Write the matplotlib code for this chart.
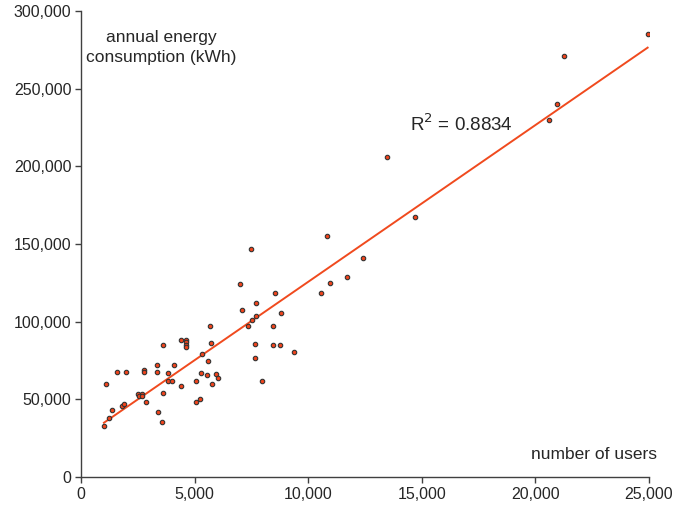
import numpy as np
import matplotlib
matplotlib.use("Agg")
import matplotlib.pyplot as plt
from matplotlib.ticker import FuncFormatter

plt.rcParams['font.family'] = ['Liberation Sans', 'DejaVu Sans']

# number of users / annual energy consumption (kWh)
users = [1010, 1110, 1240, 1375, 1570, 1790, 1880, 1960, 2520, 2670,
         2560, 2700, 2780, 2780, 2870, 3330, 3330, 3410, 3550, 3590,
         3600, 3840, 3840, 4000, 4100, 4380, 4410, 4640, 4640, 4640,
         4640, 5050, 5050, 5230, 5290, 5320, 5550, 5590, 5680, 5730,
         5770, 5920, 6050, 7000, 7090, 7360, 7500, 7530, 7645, 7680,
         7690, 7690, 7950, 8450, 8450, 8550, 8770, 8820, 9380, 10545,
         10810, 10940, 11720, 12390, 13480, 14710, 20590, 20960, 21280, 24940]
energy = [32600, 59700, 37800, 43100, 67600, 45900, 47200, 67600, 53600, 53600,
          52200, 52200, 68900, 67400, 48500, 72300, 67600, 41700, 35200, 84800,
          53800, 66800, 61500, 61500, 72300, 88200, 58300, 88200, 86700, 85200,
          83700, 61600, 48500, 50400, 67000, 78900, 65700, 74900, 97400, 86100,
          59700, 66300, 63700, 124100, 107300, 97400, 147000, 100900, 76800, 85400,
          112000, 103800, 61600, 97400, 84800, 118700, 84800, 105400, 80700, 118700,
          155000, 125100, 128600, 141200, 206200, 167600, 230000, 240300, 271000, 285400]

x = np.array(users)
y = np.array(energy)
slope, icpt = np.polyfit(x, y, 1)
xl = np.array([x.min(), x.max()])

fig = plt.figure(figsize=(6.84, 5.08), dpi=100)
ax = fig.add_axes([81/684, 31/508, 568/684, 466/508])

ax.plot(xl, slope*xl + icpt, color="#f04a1e", linewidth=1.4, zorder=2)
ax.plot(x, y, linestyle="none", marker="o", markersize=3.2,
        markerfacecolor="#f0441c", markeredgecolor="#333333", markeredgewidth=0.8, zorder=3)

ax.set_xlim(0, 25000)
ax.set_ylim(0, 300000)
ax.set_xticks(np.arange(0, 25001, 5000))
ax.set_yticks(np.arange(0, 300001, 50000))
fmt = FuncFormatter(lambda v, p: f"{int(v):,}")
ax.xaxis.set_major_formatter(fmt)
ax.yaxis.set_major_formatter(fmt)

for s in ["top", "right"]:
    ax.spines[s].set_visible(False)
for s in ["left", "bottom"]:
    ax.spines[s].set_color("#404040")
    ax.spines[s].set_linewidth(1.0)
ax.tick_params(direction="out", length=4, width=1, color="#404040",
               labelsize=11.5, labelcolor="#262626", pad=3)

# y label written as two lines inside the plot, like the original
ax.text(0.141, 0.944, "annual energy", transform=ax.transAxes,
        ha="center", va="center", fontsize=12.5, color="#262626")
ax.text(0.141, 0.901, "consumption (kWh)", transform=ax.transAxes,
        ha="center", va="center", fontsize=12.5, color="#262626")
ax.text(0.904, 0.049, "number of users", transform=ax.transAxes,
        ha="center", va="center", fontsize=12.5, color="#262626")
ax.text(0.67, 0.757, r"R$^2$ = 0.8834", transform=ax.transAxes,
        ha="center", va="center", fontsize=13.5, color="#262626")

fig.savefig("out.png", dpi=100)
